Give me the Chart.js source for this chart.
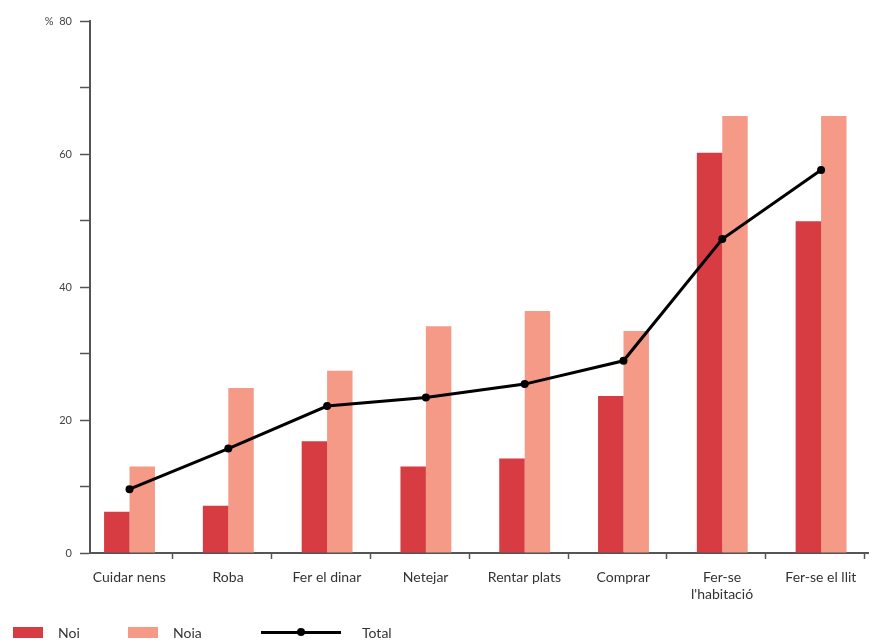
<!DOCTYPE html>
<html>
<head>
<meta charset="utf-8">
<script src="https://cdn.jsdelivr.net/npm/chart.js@4/dist/chart.umd.min.js"></script>
<style>
  html, body { margin: 0; padding: 0; background: #fff; }
  #wrap { position: relative; width: 872px; height: 642px; }
  #legend { position: absolute; left: 0; top: 624px; width: 872px; height: 18px;
    font-family: Lato, "Open Sans", sans-serif; font-size: 14px; color: #333; }
  .item { position: absolute; top: 0; height: 18px; line-height: 18px; }
  .sw { position: absolute; top: 3px; width: 30px; height: 11px; }
  .ln { position: absolute; top: 7px; width: 80px; height: 3px; background: #000; }
  .dot { position: absolute; top: 4px; left: 36px; width: 8px; height: 8px; border-radius: 50%; background: #000; }
</style>
</head>
<body>
<div id="wrap">
  <canvas id="c" width="872" height="642"></canvas>
  <div id="legend">
    <div class="item" style="left:13px"><div class="sw" style="background:#d63c42"></div><span style="position:absolute;left:45px">Noi</span></div>
    <div class="item" style="left:128px"><div class="sw" style="background:#f49a86"></div><span style="position:absolute;left:45px">Noia</span></div>
    <div class="item" style="left:261px"><div class="ln"></div><div class="dot"></div><span style="position:absolute;left:101px">Total</span></div>
  </div>
</div>
<script>
const categories = ["Cuidar nens", "Roba", "Fer el dinar", "Netejar", "Rentar plats", "Comprar", ["Fer-se", "l'habitació"], "Fer-se el llit"];
const noi   = [6.2, 7.1, 16.8, 13.0, 14.2, 23.6, 60.2, 49.9];
const noia  = [13.0, 24.8, 27.4, 34.1, 36.4, 33.4, 65.7, 65.7];
const total = [9.6, 15.7, 22.1, 23.4, 25.4, 28.9, 47.2, 57.6];
const yTicks = [0, 10, 20, 30, 40, 50, 60, 70, 80];
const yLabelled = [0, 20, 40, 60, 80];

const FONT = 'Lato, "Open Sans", sans-serif';
const TICK_SHIFT = 0.44;
const toXY = arr => arr.map((v, i) => ({ x: i, y: v }));

new Chart(document.getElementById('c'), {
  type: 'bar',
  data: {
    datasets: [
      { type: 'line', label: 'Total', data: toXY(total), borderColor: '#000', backgroundColor: '#000',
        borderWidth: 3, pointRadius: 4, pointBackgroundColor: '#000', pointBorderWidth: 0, tension: 0, order: 0 },
      { label: 'Noi', data: toXY(noi), backgroundColor: '#d63c42', order: 1 },
      { label: 'Noia', data: toXY(noia), backgroundColor: '#f49a86', order: 1 }
    ]
  },
  options: {
    responsive: false,
    animation: false,
    categoryPercentage: 0.515,
    barPercentage: 1,
    layout: { padding: { top: 21, left: 0, right: 0, bottom: 0 } },
    plugins: { legend: { display: false }, tooltip: { enabled: false } },
    scales: {
      x: {
        type: 'linear',
        min: -0.4, max: 7.475,
        offset: false,
        grid: { display: true, drawOnChartArea: false, offset: false, tickLength: 6, tickColor: '#555', tickWidth: 1.5 },
        border: { color: '#555', width: 2 },
        afterBuildTicks: s => { s.ticks = categories.map((c, i) => ({ value: i + TICK_SHIFT })); },
        afterFit: s => { s.height = 89; s.paddingLeft = 0; s.paddingRight = 0; },
        ticks: {
          autoSkip: false, maxRotation: 0, includeBounds: false,
          labelOffset: -43.7, padding: 10,
          color: '#333', font: { family: FONT, size: 14 },
          callback: v => categories[Math.round(v - TICK_SHIFT)]
        }
      },
      y: {
        min: 0, max: 80,
        afterBuildTicks: s => { s.ticks = yTicks.map(v => ({ value: v })); },
        afterFit: s => { s.width = 90; s.paddingTop = 0; },
        grid: { display: true, drawOnChartArea: false, tickLength: 10, tickColor: '#555', tickWidth: 1.5 },
        border: { color: '#555', width: 2 },
        ticks: {
          padding: 8, color: '#444', font: { family: FONT, size: 11 },
          callback: v => yLabelled.includes(v) ? (v === 80 ? '%  80' : String(v)) : ''
        }
      }
    }
  }
});
</script>
</body>
</html>
